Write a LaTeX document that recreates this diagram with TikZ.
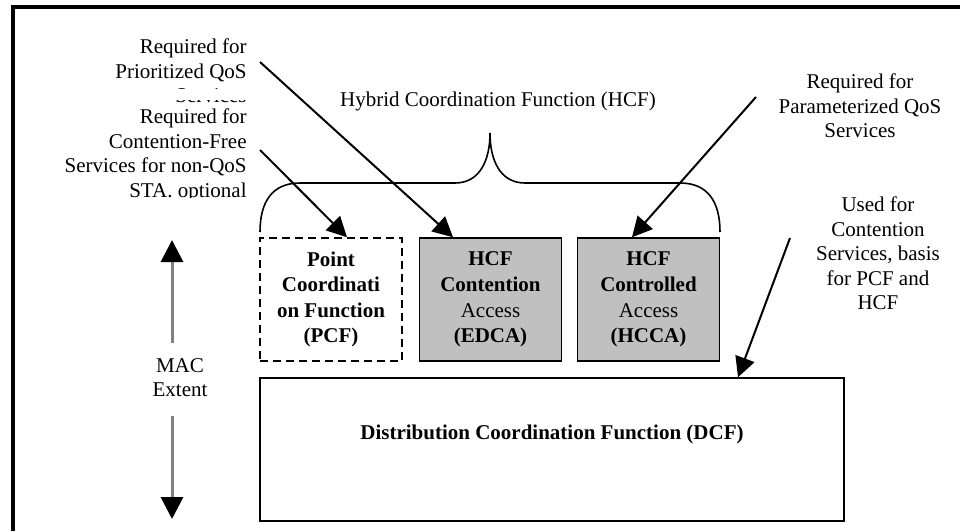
\documentclass[tikz,border=0pt]{standalone}
\usepackage{fontspec}
\setmainfont{Liberation Serif}
\usetikzlibrary{arrows.meta}
\definecolor{boxgray}{RGB}{192,192,192}
\definecolor{extentgray}{RGB}{128,128,128}

\begin{document}
\begin{tikzpicture}[x=0.5pt, y=-0.5pt,
		every node/.style={inner sep=0pt, font=\fontsize{10.5}{12.2}\selectfont},
		fbox/.style={draw, line width=0.75pt, minimum width=71pt, minimum height=61.5pt, align=center, font=\fontsize{10.5}{12.8}\selectfont\bfseries},
		ptr/.style={line width=1pt, -{Triangle[length=10pt,width=10pt]}},
		extent/.style={extentgray, line width=1.5pt, -{Triangle[length=11pt,width=11pt,color=black]}}]
			\useasboundingbox (0,0) rectangle (960,531);
			\draw[line width=2pt] (12.5,531) -- (12.5,7) -- (960,7);

			% functions
			\node[fbox, dash pattern=on 4pt off 2.5pt] (pcf) at (331,299.5) {Point\\Coordinati\\on Function\\(PCF)};
			\node[fbox, fill=boxgray] (edca) at (490.5,299.5) {HCF\\Contention\\{\mdseries Access}\\(EDCA)};
			\node[fbox, fill=boxgray] (hcca) at (648.5,299.5) {HCF\\Controlled\\{\mdseries Access}\\(HCCA)};
			\node[draw, line width=0.75pt, minimum width=292pt, minimum height=71.5pt] (dcf) at (552,449.5) {};
			\node[anchor=base, font=\fontsize{10.5}{12.2}\selectfont\bfseries] (dcftext) at (552,439) {Distribution Coordination Function (DCF)};

			% brace
			\draw[line width=0.8pt] (260,232) .. controls (260,202) and (272,183) .. (300,183) -- (455,183)
				.. controls (480,183) and (490,160) .. (490,133) .. controls (490,160) and (500,183) .. (525,183)
				-- (680,183) .. controls (708,183) and (720,202) .. (720,232);
			\node[anchor=base] (hcf) at (498,106) {Hybrid Coordination Function (HCF)};

			% notes
			\begin{scope}
				\clip (0,0) rectangle (255,88.5) (0,100) rectangle (255,197);
				\node[anchor=north east, align=right] (prio) at (247,38.7) {Required for\\Prioritized QoS\\Services};
				\node[anchor=north east, align=right] (cfree) at (247,108.7) {Required for\\Contention-Free\\Services for non-QoS\\STA. optional};
			\end{scope}
			\node[anchor=north, align=center] (param) at (860,73.7) {Required for\\Parameterized QoS\\Services};
			\node[anchor=north, align=center] (used) at (878,196.7) {Used for\\Contention\\Services, basis\\for PCF and\\HCF};
			\node[anchor=north, align=center] (mac) at (180,358) {MAC\\Extent};

			\coordinate (prioend) at (260,62);
			\coordinate (cfreeend) at (260,150);
			\coordinate (paramend) at (756,97);
			\coordinate (usedend) at (790,238);
			\draw[ptr] (prioend) -- ([xshift=-18.75pt]edca.north);
			\draw[ptr] (cfreeend) -- ([xshift=8pt]pcf.north);
			\draw[ptr] (paramend) -- ([xshift=-8.25pt]hcca.north);
			\draw[ptr] (usedend) -- ([xshift=93pt]dcf.north);

			% MAC extent
			\coordinate (macup) at (172,343);
			\coordinate (mactop) at (172,240);
			\coordinate (macdown) at (172,416);
			\coordinate (macbot) at (172,519);
			\draw[extent] (macup) -- (mactop);
			\draw[extent] (macdown) -- (macbot);
		\end{tikzpicture}
\end{document}
